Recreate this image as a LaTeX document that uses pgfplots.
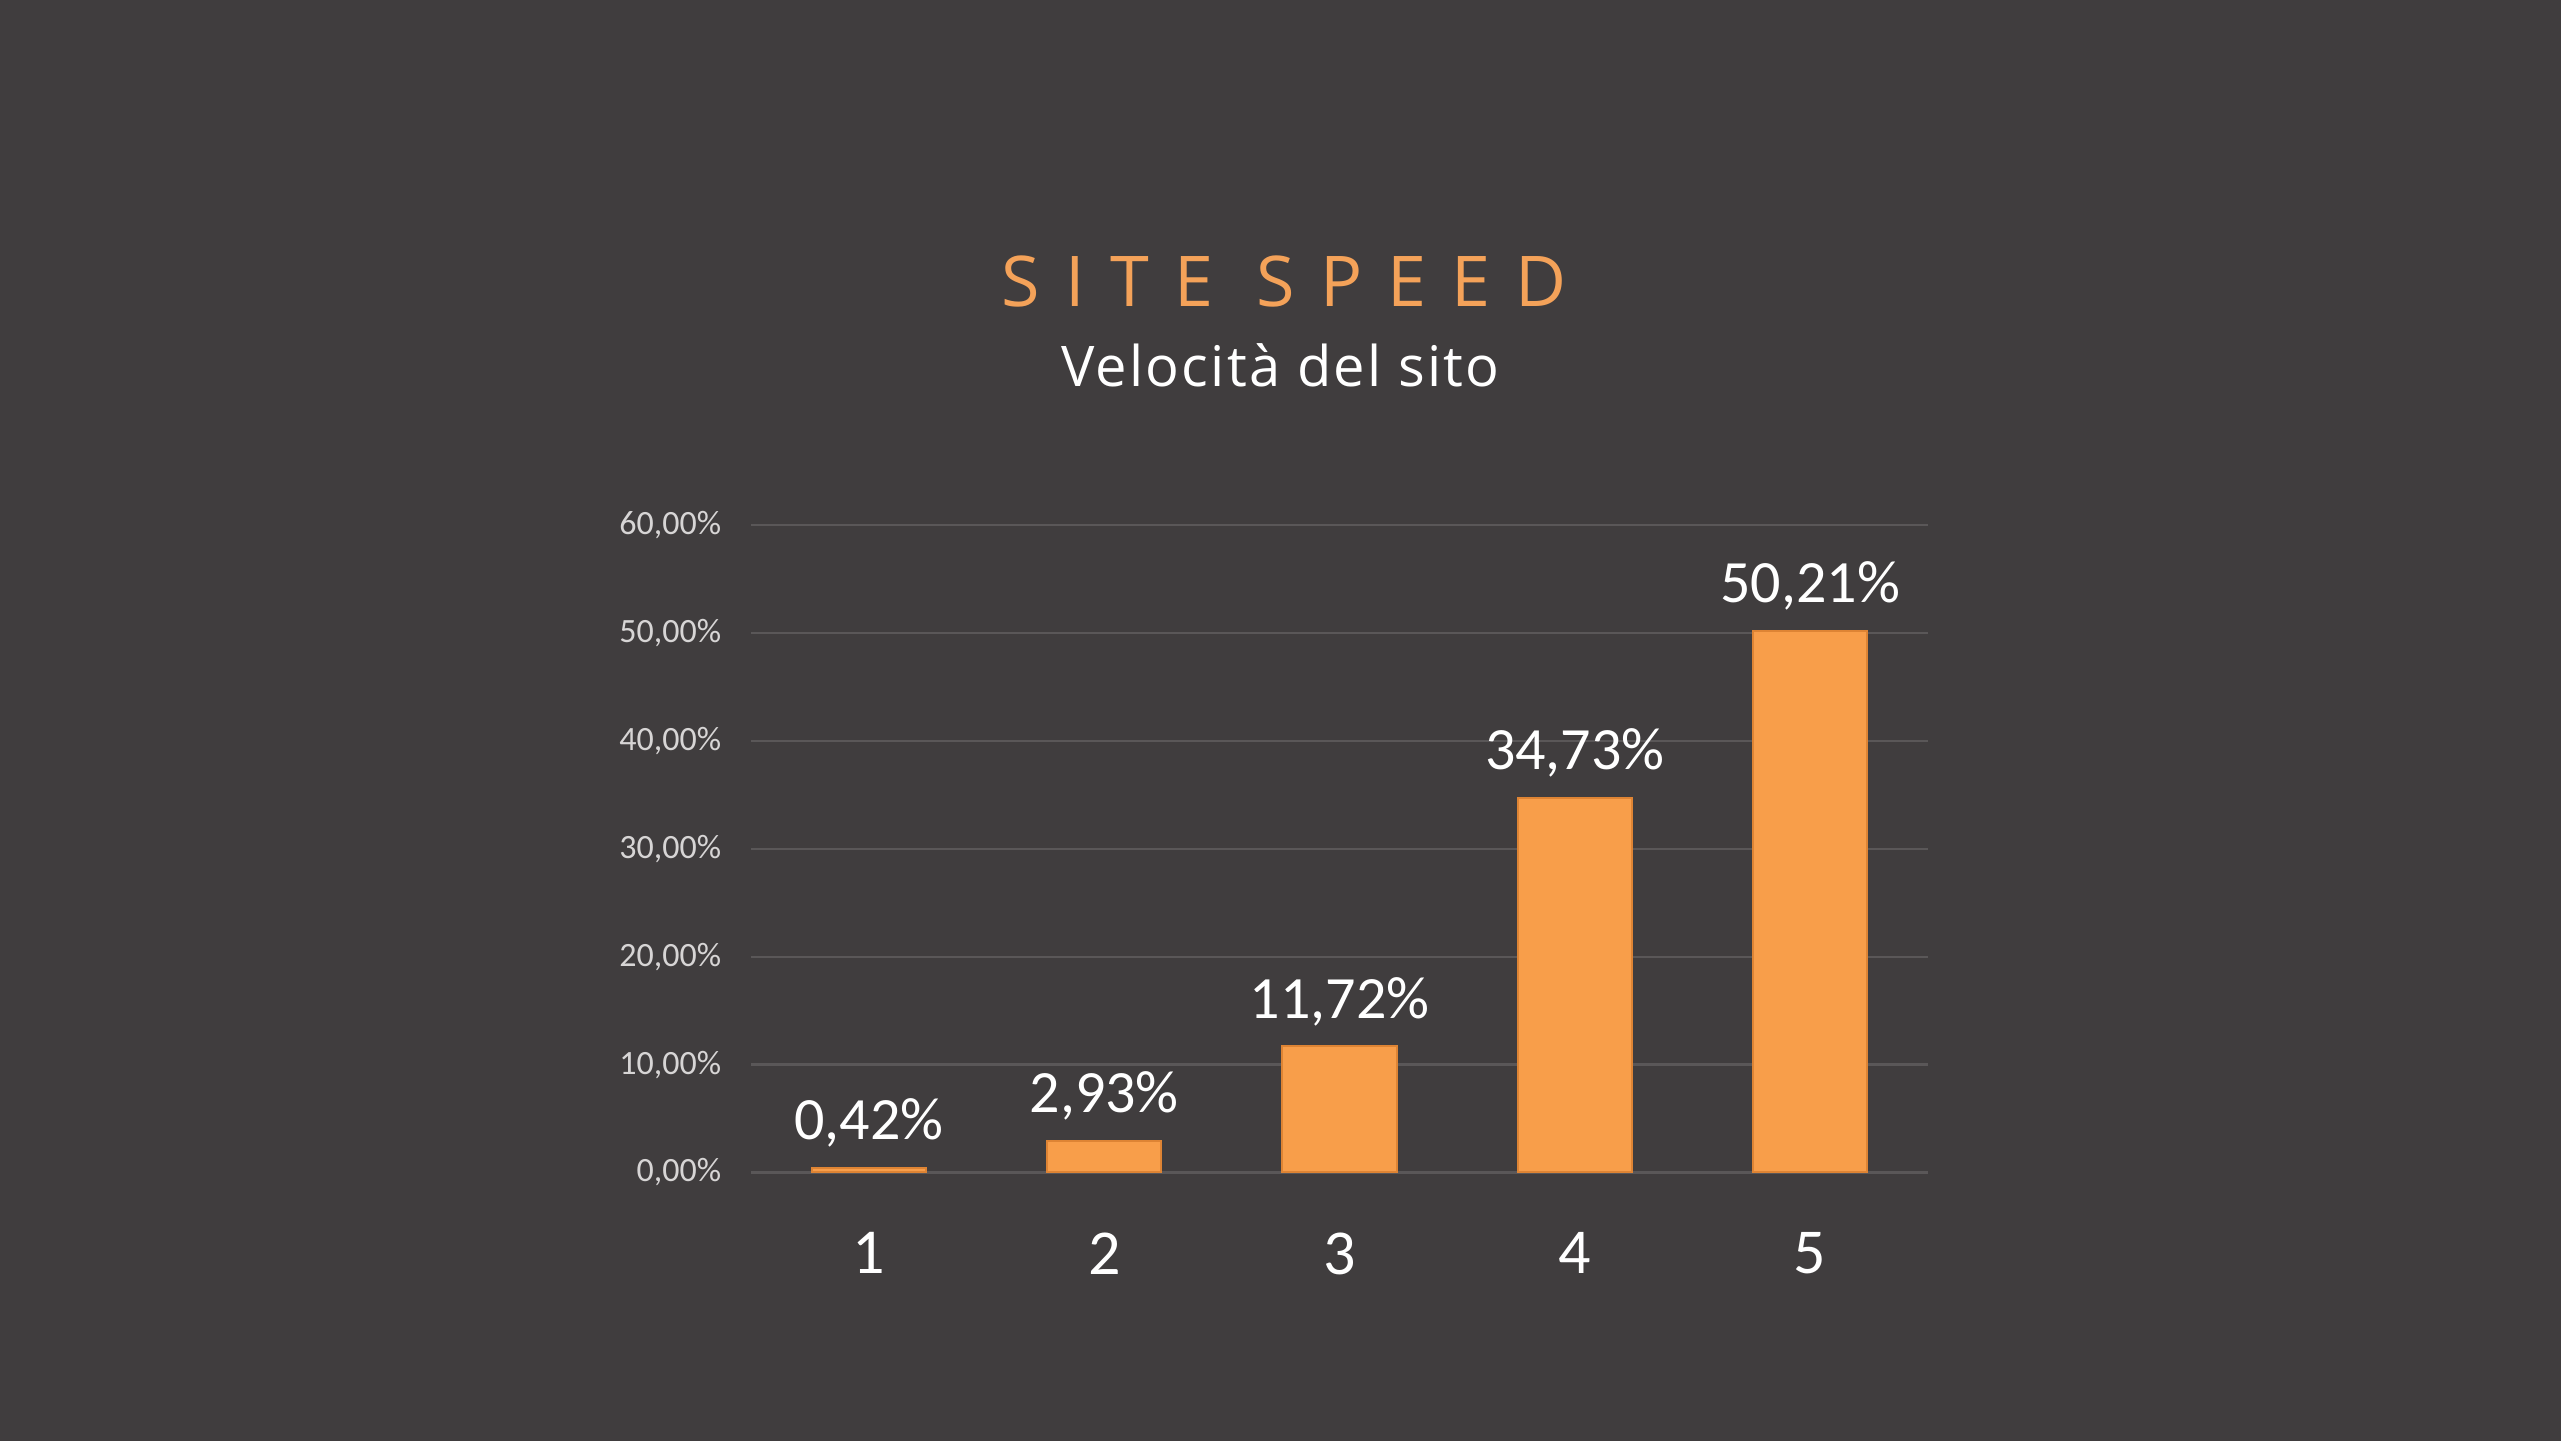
\documentclass[border=0pt]{standalone}
\usepackage{pgfplots}
\pgfplotsset{compat=1.18}
\usepackage{fontspec}
\setmainfont{Carlito}
\newfontfamily\titlefont[LetterSpace=36]{Open Sans}
\newfontfamily\subfont[LetterSpace=4]{Open Sans}
\definecolor{bg}{RGB}{64,61,62}
\definecolor{barorange}{RGB}{248,158,74}
\definecolor{baredge}{RGB}{222,132,52}
\definecolor{titleorange}{RGB}{244,162,89}
\definecolor{gridgray}{RGB}{90,87,88}
\definecolor{ticktext}{RGB}{215,213,213}
\begin{document}
\begin{tikzpicture}
\fill[bg] (0,0) rectangle (640pt,360pt);
\node[anchor=base, text=titleorange, font=\titlefont\fontsize{17.5}{20}\selectfont] at (321pt,283.5pt) {SITE SPEED};
\node[anchor=base, text=white, font=\subfont\fontsize{14}{17}\selectfont] at (320pt,263.5pt) {Velocità del sito};
\begin{axis}[
    at={(187.75pt,67pt)}, anchor=south west,
    width=294pt, height=161.75pt, scale only axis,
    xmin=0.5, xmax=5.5, ymin=0, ymax=60,
    axis line style={draw=none},
    ytick={0,10,20,30,40,50,60},
    xtick={1,2,3,4,5},
    major tick length=0pt,
    ymajorgrids, grid style={gridgray, line width=0.6pt},
    /pgf/number format/assume math mode=true,
    yticklabel={\pgfmathprintnumber[fixed,fixed zerofill,precision=2,use comma]{\tick}\%},
    yticklabel style={text=ticktext, font=\fontsize{8.5}{9}\selectfont, xshift=-4pt},
    xticklabel style={text=white, font=\fontsize{16}{18}\selectfont, yshift=-11.5pt},
    ybar, bar width=28.6pt,
    nodes near coords={\pgfmathprintnumber[fixed,fixed zerofill,precision=2,use comma]{\pgfplotspointmeta}\%},
    nodes near coords style={text=white, font=\fontsize{15}{17}\selectfont, yshift=1.5pt},
]
\addplot[fill=barorange, draw=baredge, line width=0.5pt] coordinates {
    (1,0.42) (2,2.93) (3,11.72) (4,34.73) (5,50.21)
};
\end{axis}
\end{tikzpicture}
\end{document}
